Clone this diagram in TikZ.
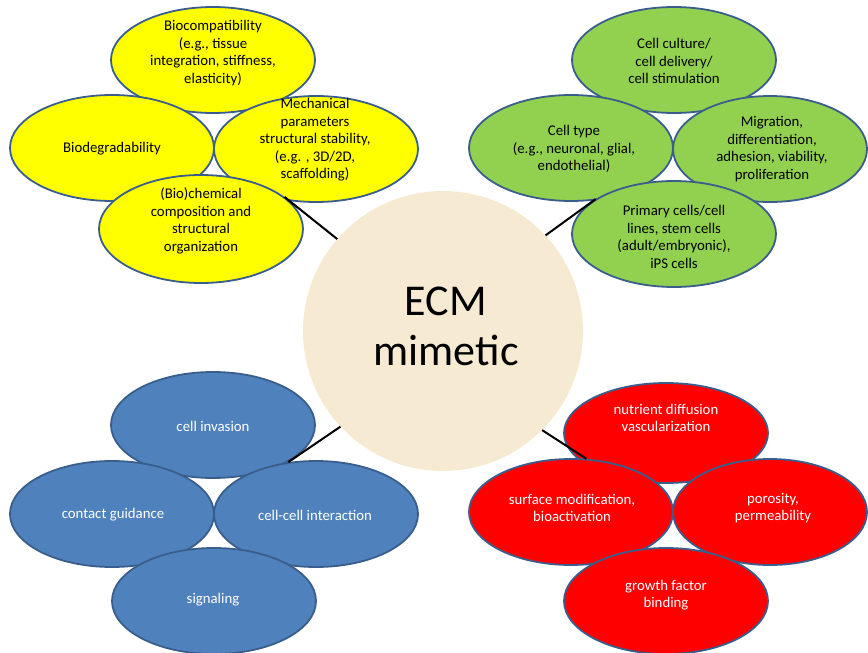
\documentclass[tikz,border=0pt]{standalone}
\usepackage{fontspec}
\setmainfont{Carlito}
\usetikzlibrary{shapes.geometric}
\definecolor{edgeblue}{HTML}{3A5E8C}
\definecolor{yelfill}{HTML}{FFFF00}
\definecolor{grnfill}{HTML}{92D050}
\definecolor{blufill}{HTML}{4F81BD}
\definecolor{redfill}{HTML}{FF0000}
\definecolor{beige}{HTML}{F7EAD3}
\begin{document}
\begin{tikzpicture}[x=1pt,y=-1pt,
  blob/.style={ellipse, draw=edgeblue, line width=1.8pt, minimum width=204pt, minimum height=106pt, inner sep=0pt},
  yel/.style={blob, fill=yelfill},
  grn/.style={blob, fill=grnfill},
  blu/.style={blob, fill=blufill},
  rd/.style={blob, fill=redfill},
  txt/.style={align=center, inner sep=0pt, font=\fontsize{14.8}{17.5}\selectfont},
  wtxt/.style={txt, text=white},
  conn/.style={draw=black, line width=2pt}]
\useasboundingbox (0,0) rectangle (868,653);
\fill[white] (0,0) rectangle (868,653);

% centre
\node[circle, fill=beige, minimum size=280pt, inner sep=0pt] (ecm) at (443,331) {};
\node[align=center, inner sep=0pt, font=\fontsize{44}{50}\selectfont] (ecmtxt) at (446,326) {ECM\\mimetic};

% yellow group
\node[yel] (compat) at (213,60) {};
\node[yel] (degrad) at (112,148) {};
\node[yel] (mech) at (316,149) {};
\node[yel, minimum height=108pt] (chem) at (201,229) {};
\node[txt] (compatt) at (213,53) {Biocompatibility\\(e.g., tissue\\integration, stiffness,\\elasticity)};
\node[txt] (degradt) at (112,149) {Biodegradability};
\node[txt] (mecht) at (315,140) {Mechanical\\parameters\\structural stability,\\(e.g. , 3D/2D,\\scaffolding)};
\node[txt] (chemt) at (201,221) {(Bio)chemical\\composition and\\structural\\organization};

% green group
\node[grn] (culture) at (674,60) {};
\node[grn] (ctype) at (571,148) {};
\node[grn, minimum width=194pt] (migr) at (770,149) {};
\node[grn] (primary) at (674,234) {};
\node[txt] (culturet) at (674,61) {Cell culture/\\cell delivery/\\cell stimulation};
\node[txt] (ctypet) at (574,149) {Cell type\\(e.g., neuronal, glial,\\endothelial)};
\node[txt] (migrt) at (772,149) {Migration,\\differentiation,\\adhesion, viability,\\proliferation};
\node[txt] (primaryt) at (674,237) {Primary cells/cell\\lines, stem cells\\(adult/embryonic),\\iPS cells};

% blue group
\node[blu] (invasion) at (213,425) {};
\node[blu] (guidance) at (112,514) {};
\node[blu] (cellcell) at (316,514) {};
\node[blu] (signal) at (214,601) {};
\node[wtxt] (invasiont) at (213,426) {cell invasion};
\node[wtxt] (guidancet) at (113,515) {contact guidance};
\node[wtxt] (cellcellt) at (315,515) {cell-cell interaction};
\node[wtxt] (signalt) at (213,600) {signaling};

% red group
\node[rd, minimum height=100pt] (nutrient) at (666,433) {};
\node[rd] (surface) at (571,512) {};
\node[rd, minimum width=194pt] (porosity) at (770,512) {};
\node[rd] (growth) at (666,601) {};
\node[wtxt] (nutrientt) at (666,418) {nutrient diffusion\\vascularization};
\node[wtxt] (surfacet) at (572,508) {surface modification,\\bioactivation};
\node[wtxt] (porosityt) at (773,508) {porosity,\\permeability};
\node[wtxt] (growtht) at (666,595) {growth factor\\binding};

% connectors
\draw[conn] (ecm.139) -- (chem.21);
\draw[conn] (ecm.43) -- (primary.156);
\draw[conn] (ecm.223) -- (cellcell.118);
\draw[conn] (ecm.315) -- (surface.74);
\end{tikzpicture}
\end{document}
